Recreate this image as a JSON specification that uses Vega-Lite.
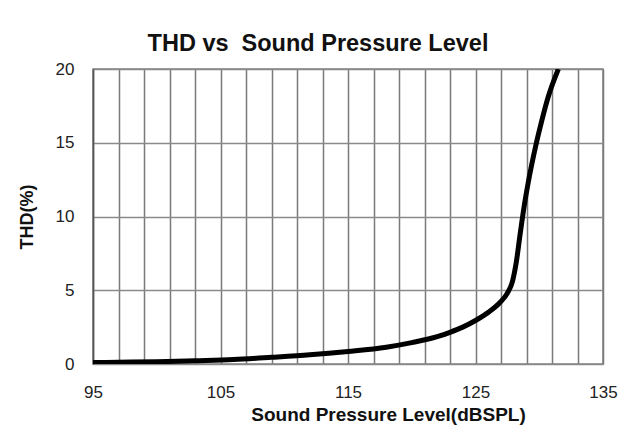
{
  "$schema": "https://vega.github.io/schema/vega-lite/v6.json",
  "autosize": "none",
  "width": 510,
  "height": 295,
  "padding": {"left": 93, "top": 69, "right": 16, "bottom": 73},
  "background": "white",
  "config": {
    "font": "Liberation Sans",
    "view": {"stroke": "#808080", "strokeWidth": 1.5}
  },
  "title": {
    "text": "THD vs\u00a0 Sound Pressure Level",
    "font": "Liberation Sans",
    "fontSize": 23.5,
    "fontWeight": "bold",
    "color": "#111",
    "anchor": "middle",
    "dx": -30,
    "offset": 5
  },
  "data": {
    "values": [
      {"spl": 95, "thd": 0.1},
      {"spl": 97, "thd": 0.12},
      {"spl": 100, "thd": 0.15},
      {"spl": 103, "thd": 0.22},
      {"spl": 106, "thd": 0.3},
      {"spl": 109, "thd": 0.45},
      {"spl": 112, "thd": 0.62},
      {"spl": 115, "thd": 0.85},
      {"spl": 118, "thd": 1.14},
      {"spl": 120, "thd": 1.45},
      {"spl": 122, "thd": 1.85},
      {"spl": 123, "thd": 2.15},
      {"spl": 124, "thd": 2.5},
      {"spl": 125, "thd": 2.95},
      {"spl": 126, "thd": 3.5},
      {"spl": 126.9, "thd": 4.15},
      {"spl": 127.5, "thd": 4.8},
      {"spl": 127.9, "thd": 5.6},
      {"spl": 128.2, "thd": 6.9},
      {"spl": 128.5, "thd": 8.8},
      {"spl": 128.8, "thd": 10.6},
      {"spl": 129.2, "thd": 12.6},
      {"spl": 129.7, "thd": 14.7},
      {"spl": 130.2, "thd": 16.5},
      {"spl": 130.7, "thd": 18.1},
      {"spl": 131.5, "thd": 20.0}
    ]
  },
  "mark": {"type": "line", "color": "black", "strokeWidth": 5, "interpolate": "monotone", "clip": true},
  "encoding": {
    "x": {
      "field": "spl",
      "type": "quantitative",
      "scale": {"domain": [95, 135], "nice": false, "zero": false},
      "axis": {
        "title": "Sound Pressure Level(dBSPL)",
        "values": [95, 97, 99, 101, 103, 105, 107, 109, 111, 113, 115, 117, 119, 121, 123, 125, 127, 129, 131, 133, 135],
        "labelExpr": "(datum.value - 95) % 10 == 0 ? datum.label : ''",
        "grid": true,
        "gridColor": "#7a7a7a",
        "gridWidth": 1.5,
        "gridOpacity": 1,
        "ticks": false,
        "domain": false,
        "labelFontSize": 17,
        "labelColor": "#222",
        "labelPadding": 20,
        "labelFlush": false,
        "labelOverlap": false,
        "titleFontSize": 19,
        "titleFontWeight": "bold",
        "titleColor": "#111",
        "titleX": 295,
        "titlePadding": 5
      }
    },
    "y": {
      "field": "thd",
      "type": "quantitative",
      "scale": {"domain": [0, 20], "nice": false},
      "axis": {
        "title": "THD(%)",
        "values": [0, 5, 10, 15, 20],
        "grid": true,
        "gridColor": "#8a8a8a",
        "gridWidth": 1.5,
        "gridOpacity": 1,
        "ticks": false,
        "domain": true,
        "domainColor": "#555",
        "domainWidth": 1.5,
        "labelFontSize": 17,
        "labelColor": "#222",
        "labelPadding": 19,
        "titleFontSize": 18,
        "titleFontWeight": "bold",
        "titleColor": "#111",
        "titlePadding": 19
      }
    }
  }
}
